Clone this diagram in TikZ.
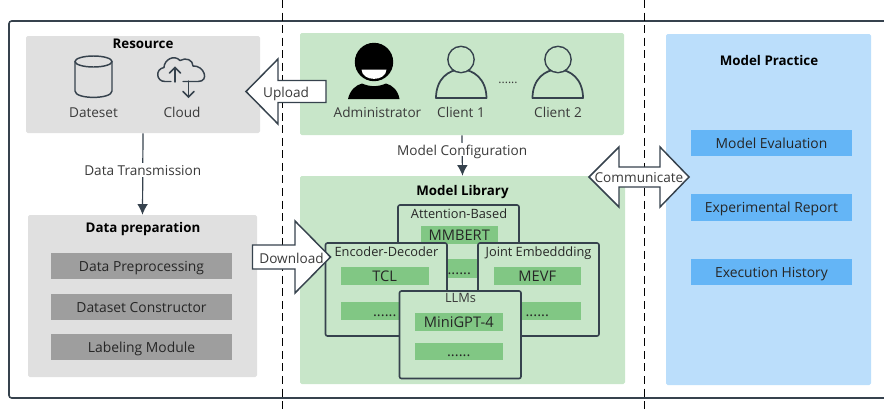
\documentclass[tikz,border=0pt]{standalone}
\usepackage{fontspec}
\setmainfont{Open Sans}
\usetikzlibrary{arrows.meta}
\definecolor{ink}{HTML}{36424D}
\definecolor{txt}{HTML}{3A3A3A}
\definecolor{pgray}{HTML}{E0E0E0}
\definecolor{pgreen}{HTML}{C8E6C9}
\definecolor{pblue}{HTML}{BBDEFB}
\definecolor{igray}{HTML}{9E9E9E}
\definecolor{igreen}{HTML}{81C784}
\definecolor{iblue}{HTML}{64B5F6}
\newcommand{\pxbox}[7]{%
  \pgfmathsetmacro\pbw{(#5-#3)*0.75}%
  \pgfmathsetmacro\pbh{(#6-#4)*0.75}%
  \node[#1,minimum width=\pbw pt,minimum height=\pbh pt] (#2) at ({(#3+#5)/2},{(#4+#6)/2}) {#7};}
\tikzset{
  fnt/.style={font=\fontsize{10.2pt}{12pt}\selectfont},
  base/.style={fnt,inner sep=0pt,text height=9.4pt,text depth=1pt},
  lbl/.style={base,text=txt},
  ttl/.style={base,text=black,font=\fontsize{10pt}{12pt}\selectfont\bfseries},
  panel/.style={base,rounded corners=1.2pt},
  inner/.style={base,text=black!85,font=\fontsize{10.4pt}{12pt}\selectfont},
  modelname/.style={inner,fill=igreen,font=\fontsize{11pt}{12pt}\selectfont},
  famtitle/.style={base,text=black!85,font=\fontsize{9.6pt}{12pt}\selectfont},
  family/.style={base,text=black!85,draw=ink,fill=pgreen,line width=1.2pt,rounded corners=1.5pt},
  frame/.style={draw=ink,line width=1.2pt},
  sep/.style={draw=black,line width=.6pt,dash pattern=on 6pt off 3.4pt},
  conn/.style={draw=ink,line width=.9pt,-{Latex[length=8pt,width=8pt]}},
  blockarrow/.style={draw=ink,fill=white,line width=1.1pt,miter limit=10},
  icon/.style={draw=ink,line width=1.1pt},
  onconn/.style={lbl,fill=white,inner xsep=1pt}
}
\begin{document}
\begin{tikzpicture}[x=0.75pt,y=-0.75pt]
\useasboundingbox (0,0) rectangle (884,411);
% outer frame
\draw[frame,rounded corners=2pt] (884,21) -- (9,21) -- (9,398) -- (884,398);
% panels
\pxbox{panel,fill=pgray}{resource}{26}{36}{260}{133}{}
\pxbox{panel,fill=pgray}{dataprep}{28}{215}{257}{377}{}
\pxbox{panel,fill=pgreen}{users}{300}{33}{624}{135}{}
\pxbox{panel,fill=pgreen}{library}{300}{176}{625}{384}{}
\pxbox{panel,fill=pblue}{practice}{666}{34}{871}{385}{}
% titles
\node[ttl] (tres) at (143,43) {Resource};
\node[ttl] (tprep) at (143,227) {Data preparation};
\node[ttl] (tlib) at (462.5,190) {Model Library};
\node[ttl] (tprac) at (769,60) {Model Practice};
% data preparation
\pxbox{inner,fill=igray}{dp1}{51}{252.5}{232}{279}{Data Preprocessing}
\pxbox{inner,fill=igray}{dp2}{51}{293.5}{232}{319.5}{Dataset Constructor}
\pxbox{inner,fill=igray}{dp3}{51}{334}{232}{360}{Labeling Module}
% model practice
\pxbox{inner,fill=iblue}{mp1}{691}{129.5}{852}{155.5}{Model Evaluation}
\pxbox{inner,fill=iblue}{mp2}{691}{194}{852}{220.5}{Experimental Report}
\pxbox{inner,fill=iblue}{mp3}{691}{259}{852}{285}{Execution History}
% attention family
\pxbox{family}{att}{398}{205}{519}{295}{}
\node[famtitle] (tatt) at (459,212.5) {Attention-Based};
\pxbox{modelname}{mmbert}{420.5}{226}{498}{244}{MMBERT}
\pxbox{modelname}{attd}{420.5}{259}{498}{278}{......}
% encoder family
\pxbox{family}{enc}{325.5}{243}{447}{336}{}
\node[famtitle] (tenc) at (386.5,250.5) {Encoder-Decoder};
\pxbox{modelname}{tcl}{341}{267}{428.5}{285}{TCL}
\pxbox{modelname}{encd}{341}{302}{428.5}{320}{......}
% joint family
\pxbox{family}{joint}{478}{243}{599}{336}{}
\node[famtitle] (tjoint) at (538.5,250.5) {Joint Embeddding};
\pxbox{modelname}{mevf}{493.5}{267}{581}{285}{MEVF}
\pxbox{modelname}{jointd}{493.5}{302}{581}{320}{......}
% LLM family
\pxbox{family}{llm}{399.5}{291}{521}{378.5}{}
\node[famtitle,text=txt] (tllm) at (460.5,297) {LLMs};
\pxbox{modelname}{mini}{415}{312.5}{502.5}{330.5}{MiniGPT-4}
\pxbox{modelname}{llmd}{415}{342.5}{502.5}{360}{......}
% separators
\coordinate (s1a) at (282.5,0); \coordinate (s1b) at (282.5,411);
\coordinate (s2a) at (644.5,0); \coordinate (s2b) at (644.5,411);
\draw[sep] (s1a) -- (s1b);
\draw[sep] (s2a) -- (s2b);
% connectors
\draw[conn] (resource.south) -- node[onconn,pos=.45] (ldt) {Data Transmission} (dataprep.north);
\draw[conn] (users.south) -- node[onconn,pos=.35] (lmc) {Model Configuration} (library.north);
% block arrows
\draw[blockarrow] (246,91.5) -- (278,59) -- (278,80.5) -- (326,80.5) -- (326,102.5) -- (278,102.5) -- (278,124) -- cycle;
\node[lbl] (lup) at (286,92) {Upload};
\draw[blockarrow] (252.5,245) -- (295,245) -- (295,221) -- (330.5,257) -- (295,293) -- (295,269) -- (252.5,269) -- cycle;
\node[lbl] (ldown) at (291.5,257.5) {Download};
\draw[blockarrow] (589,177) -- (619,147) -- (619,167) -- (660,167) -- (660,147) -- (689,177) -- (660,207) -- (660,187) -- (619,187) -- (619,207) -- cycle;
\node[lbl] (lcomm) at (639,177) {Communicate};
% resource icons
\draw[icon] (75,61.5) -- (75,91) .. controls (75,99.5) and (112,99.5) .. (112,91) -- (112,61.5);
\draw[icon] (93.5,61.5) ellipse [x radius=18.5,y radius=5.5];
\draw[icon,line join=round,line cap=round] (171,81.5) -- (165,81.5) .. controls (156,81.5) and (155,69) .. (164,67.5) .. controls (164,60) and (174,54) .. (180,60.5) .. controls (186,57) and (193,60) .. (193,66) .. controls (204,65) and (210,81.5) .. (198,81.5) -- (183,81.5);
\draw[icon,line cap=round] (175,82) -- (175,68);
\draw[icon,line cap=round] (169.5,73) -- (175,67.5) -- (180.5,73);
\draw[icon,line cap=round] (188.5,81) -- (188.5,96.5);
\draw[icon,line cap=round] (183,91.5) -- (188.5,97) -- (194,91.5);
\node[lbl] (ldb) at (93.5,112) {Dateset};
\node[lbl] (lcl) at (182,112) {Cloud};
% administrator
\fill[black] (374,62) circle [radius=19.2];
\fill[white] (361.5,69.5) -- (386.5,69.5) .. controls (386,82) and (362,82) .. (361.5,69.5) -- cycle;
\fill[black] (348,99) .. controls (350,90) and (356,85) .. (362,83.5) .. controls (370,87) and (378,87) .. (386,83.5) .. controls (392,85) and (398,90) .. (399.5,99) -- cycle;
% clients
\draw[icon,line width=1.3pt] (461,59.5) circle [radius=13];
\draw[icon,line width=1.3pt,line join=round] (436,98) .. controls (436,60) and (486,60) .. (486.5,98) -- cycle;
\fill[pgreen] (461,59.5) circle [radius=12.3];
\draw[icon,line width=1.3pt] (558,59.5) circle [radius=13];
\draw[icon,line width=1.3pt,line join=round] (532.5,98) .. controls (532.5,60) and (583,60) .. (583,98) -- cycle;
\fill[pgreen] (558,59.5) circle [radius=12.3];
\node[lbl] (ladm) at (377.5,112) {Administrator};
\node[lbl] (lc1) at (461,112) {Client 1};
\node[lbl,font=\fontsize{9pt}{12pt}\selectfont] (ldots) at (508,78) {......};
\node[lbl] (lc2) at (558,112) {Client 2};
\end{tikzpicture}
\end{document}
